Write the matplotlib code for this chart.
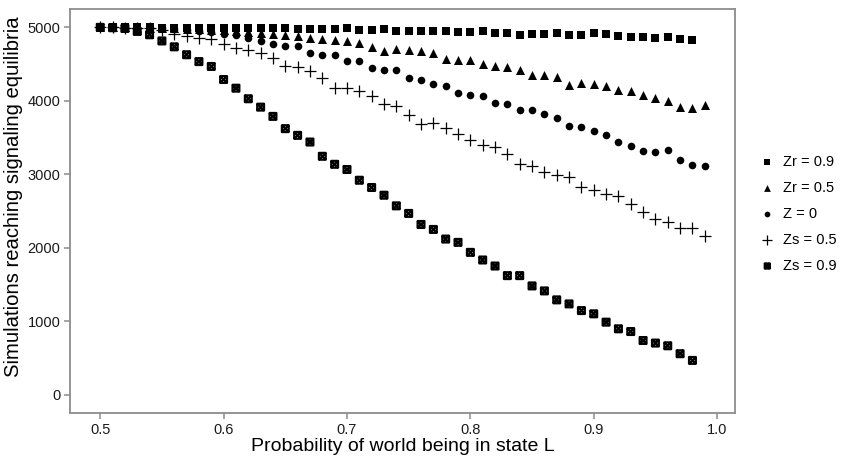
import matplotlib
matplotlib.use("Agg")
import matplotlib.pyplot as plt
import numpy as np
from matplotlib.path import Path

plt.rcParams['font.family'] = ['Liberation Sans', 'DejaVu Sans']

prob = [round(0.50 + 0.01 * i, 2) for i in range(50)]

zr09 = [5000, 5000, 5000, 5000, 5000, 4998, 4998, 4997, 4996, 4995,
        4995, 4994, 4993, 4993, 4992, 4985, 4982, 4980, 4978, 4978,
        4991, 4969, 4969, 4978, 4955, 4955, 4955, 4955, 4955, 4932,
        4932, 4946, 4923, 4923, 4901, 4910, 4910, 4923, 4901, 4897,
        4923, 4910, 4887, 4864, 4864, 4855, 4864, 4837, 4833]
zr05 = [5000, 5000, 4999, 4998, 4995, 4992, 4988, 4980, 4975, 4970,
        4960, 4950, 4940, 4925, 4915, 4895, 4880, 4855, 4840, 4833,
        4810, 4783, 4738, 4684, 4706, 4693, 4684, 4652, 4571, 4561,
        4557, 4503, 4476, 4457, 4421, 4358, 4358, 4331, 4215, 4242,
        4230, 4195, 4150, 4131, 4082, 4041, 3996, 3914, 3900, 3937]
z0 = [5000, 4999, 4998, 4995, 4990, 4985, 4975, 4960, 4950, 4932,
      4910, 4897, 4851, 4820, 4774, 4752, 4752, 4652, 4622, 4629,
      4539, 4548, 4449, 4421, 4426, 4308, 4277, 4231, 4195, 4104,
      4086, 4059, 3973, 3960, 3878, 3869, 3815, 3770, 3656, 3638,
      3584, 3539, 3439, 3385, 3317, 3303, 3326, 3190, 3132, 3113]
zs05 = [5000, 5000, 4998, 4995, 4985, 4960, 4915, 4880, 4855, 4848,
        4780, 4720, 4690, 4652, 4587, 4471, 4464, 4400, 4310, 4180,
        4177, 4131, 4059, 3960, 3923, 3801, 3688, 3697, 3634, 3552,
        3462, 3403, 3371, 3281, 3145, 3113, 3032, 2987, 2964, 2820,
        2783, 2729, 2702, 2593, 2480, 2389, 2353, 2263, 2263, 2163]
zs09 = [5000, 4995, 4985, 4945, 4899, 4815, 4735, 4627, 4534, 4468,
        4290, 4172, 4028, 3914, 3788, 3621, 3530, 3439, 3245, 3136,
        3065, 2919, 2820, 2715, 2570, 2467, 2317, 2249, 2118, 2073,
        1937, 1833, 1751, 1620, 1620, 1480, 1412, 1290, 1235, 1144,
        1100, 987, 896, 859, 737, 702, 665, 557, 466]

labels = ["Zr = 0.9", "Zr = 0.5", "Z = 0", "Zs = 0.5", "Zs = 0.9"]

# square-with-cross marker
sq_verts = [(-1, -1), (1, -1), (1, 1), (-1, 1), (-1, -1),
            (-1, -1), (1, 1), (-1, 1), (1, -1)]
sq_codes = [Path.MOVETO, Path.LINETO, Path.LINETO, Path.LINETO, Path.CLOSEPOLY,
            Path.MOVETO, Path.LINETO, Path.MOVETO, Path.LINETO]
sqx = Path(sq_verts, sq_codes)

fig = plt.figure(figsize=(8.42, 4.57), dpi=100)
ax = fig.add_axes([70 / 842, 44 / 457, 665 / 842, 404 / 457])

ax.scatter(prob[:len(zr09)], zr09, marker='s', s=30, c='black', linewidths=0, label=labels[0], zorder=3)
ax.scatter(prob[:len(zr05)], zr05, marker='^', s=42, c='black', linewidths=0, label=labels[1], zorder=3)
ax.scatter(prob[:len(z0)], z0, marker='o', s=30, c='black', linewidths=0, label=labels[2], zorder=3)
ax.scatter(prob[:len(zs05)], zs05, marker='+', s=85, c='black', linewidths=0.9, label=labels[3], zorder=3)
ax.scatter(prob[:len(zs09)], zs09, marker=sqx, s=24, facecolors='none', edgecolors='black', linewidths=1.6, label=labels[4], zorder=3)

ax.set_xlim(0.4755, 1.0145)
ax.set_ylim(-250, 5250)
ax.set_xticks([0.5, 0.6, 0.7, 0.8, 0.9, 1.0])
ax.set_xticklabels(["0.5", "0.6", "0.7", "0.8", "0.9", "1.0"])
ax.set_yticks([0, 1000, 2000, 3000, 4000, 5000])

for sp in ax.spines.values():
    sp.set_color('#8c8c8c')
    sp.set_linewidth(1.3)
ax.tick_params(axis='both', colors='#8c8c8c', length=4, width=1.1, labelsize=10.5, labelcolor='#1a1a1a', pad=3)

ax.set_xlabel("Probability of world being in state L", fontsize=14, color='black', labelpad=1)
ax.set_ylabel("Simulations reaching signaling equilibria", fontsize=14.6, color='black')
ax.yaxis.set_label_coords(-47 / 665, (413 - 197) / 404)

fig.legend(loc='upper left', bbox_to_anchor=(760 / 842, 1 - 155 / 457), frameon=False,
           fontsize=10.5, markerscale=0.75, handlelength=1.0, handletextpad=0.6,
           labelspacing=0.82, borderaxespad=0, borderpad=0)

fig.savefig("out.png", dpi=100)
